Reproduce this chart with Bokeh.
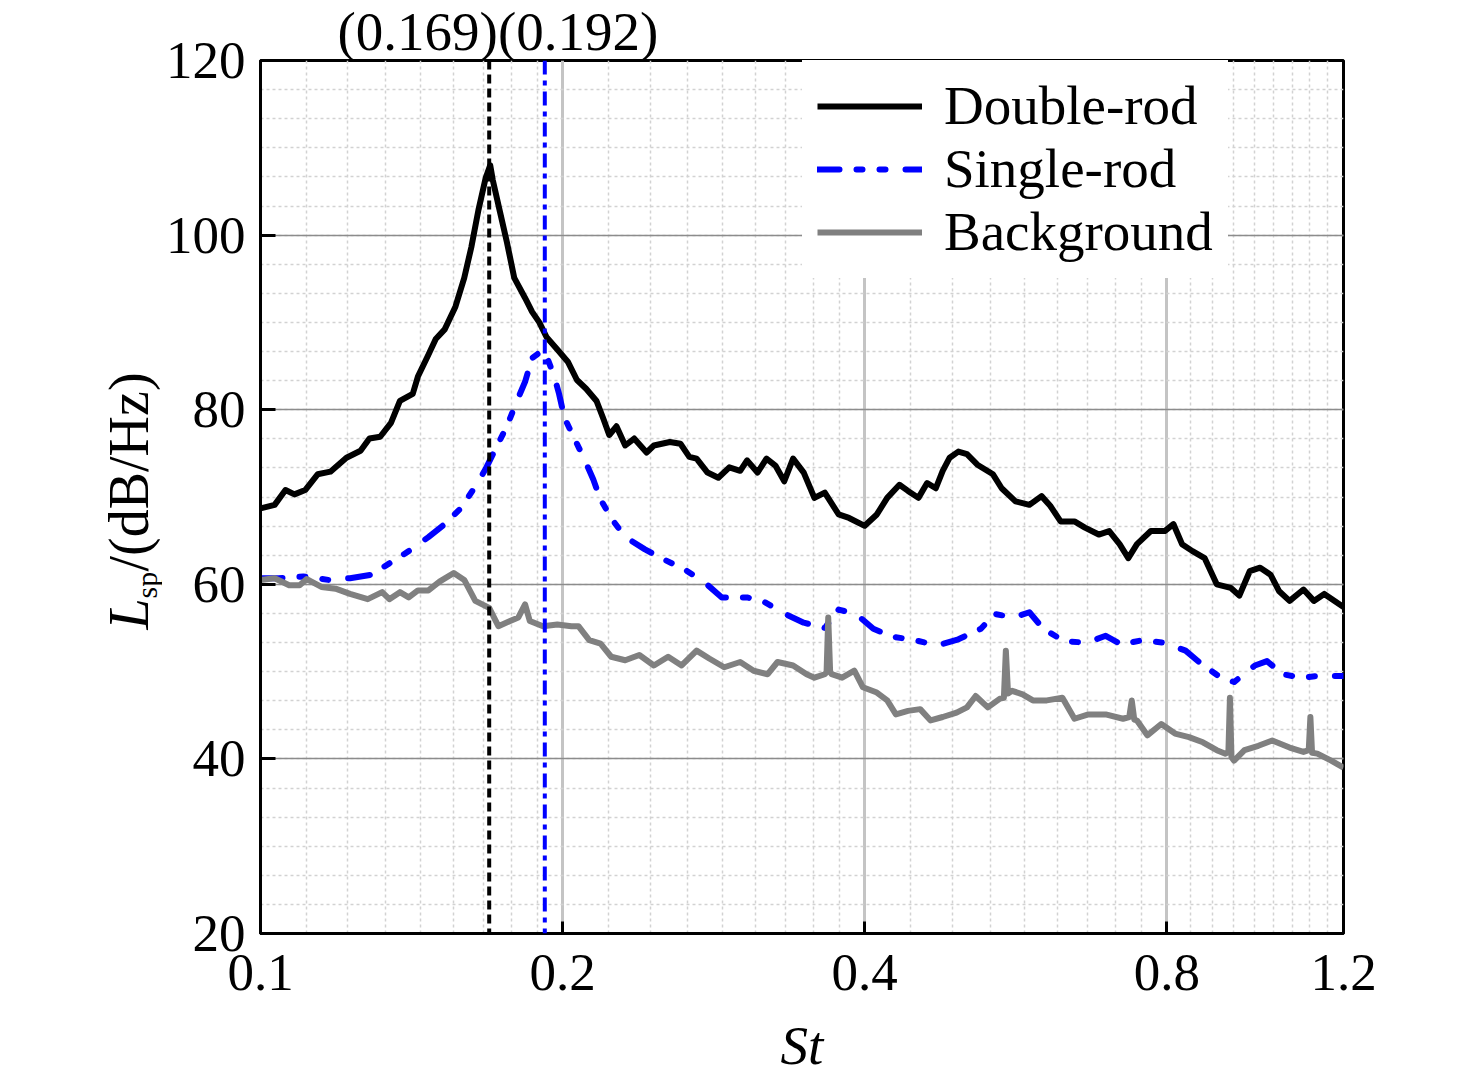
import math
from bokeh.plotting import figure
from bokeh.layouts import row
from bokeh.models import (FixedTicker, SingleIntervalTicker, Span, Legend,
                          LegendItem, PrintfTickFormatter, Range1d)
from bokeh.core.properties import value
from bokeh.embed import file_html
from bokeh.resources import INLINE

# ---------------- data ----------------
st_double = [0.1000, 0.1033, 0.1059, 0.1081, 0.1108, 0.1140, 0.1174, 0.1218, 0.1258, 0.1284,
             0.1316, 0.1349, 0.1377, 0.1418, 0.1435, 0.1470, 0.1495, 0.1526, 0.1564, 0.1596,
             0.1622, 0.1649, 0.1676, 0.1694, 0.1704, 0.1732, 0.1760, 0.1790, 0.1835, 0.1865,
             0.1896, 0.1928, 0.1976, 0.2024, 0.2067, 0.2111, 0.2162, 0.2197, 0.2226, 0.2263,
             0.2309, 0.2357, 0.2425, 0.2466, 0.2558, 0.2621, 0.2675, 0.2720, 0.2789, 0.2859,
             0.2932, 0.3006, 0.3054, 0.3128, 0.3193, 0.3259, 0.3326, 0.3394, 0.3478, 0.3564,
             0.3650, 0.3768, 0.3859, 0.4000, 0.4113, 0.4212, 0.4332, 0.4418, 0.4525, 0.4616,
             0.4709, 0.4784, 0.4861, 0.4959, 0.5058, 0.5180, 0.5369, 0.5477, 0.5654, 0.5837,
             0.6002, 0.6122, 0.6270, 0.6473, 0.6630, 0.6844, 0.7010, 0.7179, 0.7324, 0.7471,
             0.7712, 0.7962, 0.8122, 0.8285, 0.8486, 0.8725, 0.8972, 0.9263, 0.9449, 0.9677,
             0.9911, 1.0150, 1.0354, 1.0604, 1.0947, 1.1212, 1.1482, 1.2000]
lsp_double = [68.7, 69.1, 70.8, 70.3, 70.8, 72.6, 72.9, 74.5, 75.3, 76.7,
              76.9, 78.5, 81.0, 81.8, 83.8, 86.3, 88.1, 89.2, 91.8, 95.1,
              98.6, 102.9, 106.5, 108.0, 106.3, 102.7, 99.2, 95.1, 92.8, 91.2,
              90.0, 88.3, 86.9, 85.5, 83.4, 82.4, 81.0, 78.9, 77.1, 78.1,
              75.9, 76.7, 75.1, 75.9, 76.3, 76.1, 74.6, 74.4, 72.8, 72.2,
              73.4, 73.0, 74.2, 72.8, 74.4, 73.6, 71.8, 74.4, 72.8, 69.9,
              70.5, 68.0, 67.6, 66.7, 68.0, 69.9, 71.4, 70.7, 69.9, 71.6,
              71.0, 73.0, 74.5, 75.2, 74.9, 73.7, 72.6, 71.0, 69.5, 69.1,
              70.1, 69.0, 67.2, 67.2, 66.5, 65.7, 66.1, 64.6, 63.0, 64.6,
              66.1, 66.1, 66.9, 64.6, 63.8, 63.0, 60.0, 59.6, 58.7, 61.5,
              61.9, 61.1, 59.2, 58.1, 59.4, 58.1, 58.9, 57.4]

st_single = [0.1000, 0.1042, 0.1103, 0.1169, 0.1228, 0.1290, 0.1344, 0.1405, 0.1470, 0.1526,
             0.1583, 0.1637, 0.1676, 0.1718, 0.1760, 0.1798, 0.1835, 0.1865, 0.1904, 0.1928,
             0.1960, 0.1984, 0.2008, 0.2051, 0.2101, 0.2146, 0.2182, 0.2245, 0.2310, 0.2416,
             0.2528, 0.2655, 0.2778, 0.2882, 0.3054, 0.3175, 0.3333, 0.3478, 0.3650, 0.3768,
             0.3921, 0.4080, 0.4263, 0.4489, 0.4727, 0.4959, 0.5222, 0.5391, 0.5632, 0.5837,
             0.6026, 0.6320, 0.6657, 0.6954, 0.7208, 0.7561, 0.7962, 0.8352, 0.8656, 0.9008,
             0.9336, 0.9792, 1.0068, 1.0436, 1.0903, 1.1301, 1.2000]
lsp_single = [60.7, 60.7, 60.9, 60.5, 60.7, 61.1, 62.4, 63.8, 65.4, 66.9,
              68.7, 71.2, 73.2, 75.7, 78.1, 80.8, 83.2, 85.9, 86.7, 86.1,
              84.0, 81.8, 79.1, 76.9, 74.4, 72.0, 69.7, 67.3, 65.4, 64.0,
              62.8, 61.6, 60.1, 58.5, 58.5, 58.0, 56.6, 55.6, 55.0, 57.1,
              56.6, 54.9, 54.0, 53.6, 53.0, 53.7, 54.9, 56.6, 56.2, 56.8,
              54.9, 53.5, 53.3, 54.1, 53.1, 53.6, 53.3, 52.4, 50.9, 49.5,
              48.8, 50.7, 51.2, 49.7, 49.3, 49.5, 49.5]

st_bg = [0.1000, 0.1033, 0.1068, 0.1094, 0.1112, 0.1150, 0.1188, 0.1228, 0.1279, 0.1322,
         0.1344, 0.1377, 0.1405, 0.1435, 0.1470, 0.1508, 0.1558, 0.1596, 0.1637, 0.1690,
         0.1726, 0.1773, 0.1807, 0.1835, 0.1855, 0.1912, 0.1976, 0.2041, 0.2074, 0.2126,
         0.2182, 0.2236, 0.2309, 0.2385, 0.2466, 0.2548, 0.2628, 0.2720, 0.2800, 0.2898,
         0.3006, 0.3100, 0.3202, 0.3275, 0.3394, 0.3501, 0.3564, 0.3650, 0.3665, 0.3679,
         0.3695, 0.3708, 0.3798, 0.3906, 0.3984, 0.4113, 0.4212, 0.4297, 0.4418, 0.4543,
         0.4653, 0.4784, 0.4939, 0.5058, 0.5160, 0.5306, 0.5456, 0.5505, 0.5530, 0.5558,
         0.5610, 0.5746, 0.5884, 0.6075, 0.6296, 0.6473, 0.6683, 0.6954, 0.7236, 0.7340,
         0.7382, 0.7425, 0.7471, 0.7651, 0.7899, 0.8154, 0.8418, 0.8691, 0.8972, 0.9152,
         0.9215, 0.9247, 0.9280, 0.9336, 0.9561, 0.9871, 1.0190, 1.0604, 1.0947, 1.1080,
         1.1122, 1.1165, 1.1301, 1.1666, 1.2000]
lsp_bg = [60.5, 60.7, 59.9, 59.9, 60.6, 59.7, 59.5, 58.9, 58.3, 59.1,
          58.3, 59.1, 58.5, 59.3, 59.3, 60.3, 61.3, 60.5, 58.1, 57.3,
          55.2, 55.8, 56.2, 57.7, 55.8, 55.2, 55.4, 55.2, 55.2, 53.6,
          53.2, 51.7, 51.3, 51.9, 50.7, 51.7, 50.7, 52.4, 51.5, 50.5,
          51.1, 50.1, 49.7, 51.1, 50.7, 49.7, 49.3, 49.7, 49.9, 56.2,
          50.0, 49.7, 49.3, 50.1, 48.2, 47.6, 46.7, 45.1, 45.5, 45.7,
          44.4, 44.8, 45.3, 45.9, 47.2, 45.9, 46.9, 47.0, 52.4, 47.5,
          47.8, 47.4, 46.7, 46.7, 47.0, 44.6, 45.1, 45.1, 44.6, 44.8,
          46.7, 44.5, 44.4, 42.7, 44.0, 42.9, 42.5, 41.9, 41.0, 40.6,
          40.8, 47.0, 40.2, 39.8, 41.0, 41.5, 42.1, 41.3, 40.8, 41.0,
          44.8, 40.7, 40.6, 39.8, 39.0]

peak_st = [0.169, 0.192]
peak_labels = ["(0.169)", "(0.192)"]
x_ticks = [0.1, 0.2, 0.4, 0.8, 1.2]
series_names = ["Double-rod", "Single-rod", "Background"]
ylabel_parts = ["L", "sp", "/(dB/Hz)"]
xlabel = "St"

FONT = "Liberation Serif"
FS = "55px"
TICK_FS = "53px"

# ---------------- layout geometry (pixels) ----------------
LEFT_W = 162          # strip holding the y-axis title
FRAME_L = 258         # page x of the plot frame
FRAME_TOP = 59
FRAME_BOTTOM = 932
FRAME_W = 1083
FRAME_H = FRAME_BOTTOM - FRAME_TOP
BORDER_R = 120
BORDER_B = 140
MID = 0.3375          # (ascent - descent) / 2 of the serif font, in em

# minor grid positions: 8 evenly spaced lines inside every major interval
x_minor = []
for a, b in zip(x_ticks[:-1], x_ticks[1:]):
    for k in range(1, 9):
        x_minor.append(a + (b - a) * k / 9)

p = figure(frame_width=FRAME_W, frame_height=FRAME_H, x_axis_type="log",
           x_range=(0.1, 1.2), y_range=(20, 120),
           output_backend="svg", toolbar_location=None,
           min_border_left=FRAME_L - LEFT_W, min_border_right=BORDER_R,
           min_border_top=FRAME_TOP, min_border_bottom=BORDER_B,
           background_fill_color="white", border_fill_color="white")

# the two peak labels sit above the frame, as the plot's title line
p.title.text = peak_labels[0] + peak_labels[1]
p.title.align = "left"
p.title.offset = 77
p.title.standoff = -3
p.title.text_font = FONT
p.title.text_font_size = FS
p.title.text_font_style = "normal"
p.title.text_color = "black"

p.outline_line_color = "black"
p.outline_line_width = 3
p.outline_line_alpha = 1

xt = FixedTicker(ticks=x_ticks, minor_ticks=x_minor)
p.xaxis.ticker = xt
p.xgrid.ticker = xt
yt = SingleIntervalTicker(interval=20, num_minor_ticks=6)
p.yaxis.ticker = yt
p.ygrid.ticker = yt

p.xaxis.formatter = PrintfTickFormatter(format="%.1f")

for ax in (p.xaxis, p.yaxis):
    ax.axis_line_width = 3
    ax.axis_line_color = "black"
    ax.major_tick_line_width = 3
    ax.major_tick_line_color = "black"
    ax.major_tick_out = 0
    ax.minor_tick_in = 0
    ax.minor_tick_out = 0
    ax.major_label_text_font = FONT
    ax.major_label_text_font_size = TICK_FS
    ax.major_label_text_color = "black"
p.xaxis.major_tick_in = 12
p.yaxis.major_tick_in = 15
p.xaxis.major_label_standoff = 21
p.yaxis.major_label_standoff = 15

p.xaxis.axis_label = xlabel
p.xaxis.axis_label_text_font = FONT
p.xaxis.axis_label_text_font_size = FS
p.xaxis.axis_label_text_font_style = "italic"
p.xaxis.axis_label_text_color = "black"
p.xaxis.axis_label_standoff = 22

p.xgrid.grid_line_color = "#c4c4c4"
p.xgrid.grid_line_width = 3
p.ygrid.grid_line_color = "#8c8c8c"
p.ygrid.grid_line_width = 1.5
for g in (p.xgrid, p.ygrid):
    g.minor_grid_line_color = "#d2d2d2"
    g.minor_grid_line_width = 1.5
    g.minor_grid_line_dash = "3 3"

r_double = p.line(st_double, lsp_double, line_color="black", line_width=6,
                  line_join="round")
r_single = p.line(st_single, lsp_single, line_color="#0000ff", line_width=6,
                  line_dash="22 17 6 17 6 20", line_cap="round", line_join="round")
r_bg = p.line(st_bg, lsp_bg, line_color="#808080", line_width=6, line_join="round")

p.add_layout(Span(location=peak_st[0], dimension="height", line_color="black",
                  line_width=4, line_dash="9 5"))
p.add_layout(Span(location=peak_st[1], dimension="height", line_color="#0000ff",
                  line_width=4, line_dash="14 6 5 6"))

legend = Legend(items=[LegendItem(label=series_names[0], renderers=[r_double]),
                       LegendItem(label=series_names[1], renderers=[r_single]),
                       LegendItem(label=series_names[2], renderers=[r_bg])],
                location=(542, 655), background_fill_color="white",
                background_fill_alpha=1.0, border_line_alpha=0,
                label_text_font=FONT, label_text_font_size=FS,
                label_text_color="black",
                glyph_width=105, glyph_height=56, label_height=56,
                spacing=0, padding=15, label_standoff=22, margin=0)
p.add_layout(legend)

# ---------------- strip left of the plot: y-axis title ----------------
# its frame is aligned by the row layout with the plot frame (page y 59..932)
yl = figure(frame_width=LEFT_W, frame_height=FRAME_H,
            x_range=Range1d(0, LEFT_W), y_range=Range1d(0, FRAME_H),
            x_axis_location=None, y_axis_location=None,
            output_backend="svg", toolbar_location=None,
            min_border_left=0, min_border_right=0,
            min_border_top=FRAME_TOP, min_border_bottom=BORDER_B,
            background_fill_color="white", border_fill_color="white")
yl.outline_line_color = None
yl.grid.visible = False
page_bottom = FRAME_BOTTOM      # page y where this strip's y = 0
half_pi = math.pi / 2
YFS = 56
SFS = 30
yl.text(x=[147 - MID * YFS], y=[page_bottom - 628], text=[ylabel_parts[0]],
        angle=half_pi, text_font=value(FONT), text_font_style="italic",
        text_font_size=f"{YFS}px", text_align="left", text_baseline="middle",
        text_color="black")
yl.text(x=[156 - MID * SFS], y=[page_bottom - 597], text=[ylabel_parts[1]],
        angle=half_pi, text_font=value(FONT), text_font_size=f"{SFS}px",
        text_align="left", text_baseline="middle", text_color="black")
yl.text(x=[147 - MID * YFS], y=[page_bottom - 570], text=[ylabel_parts[2]],
        angle=half_pi, text_font=value(FONT), text_font_size=f"{YFS}px",
        text_align="left", text_baseline="middle", text_color="black")

layout = row(yl, p, spacing=0)

open("out.html", "w").write(file_html(layout, INLINE))
